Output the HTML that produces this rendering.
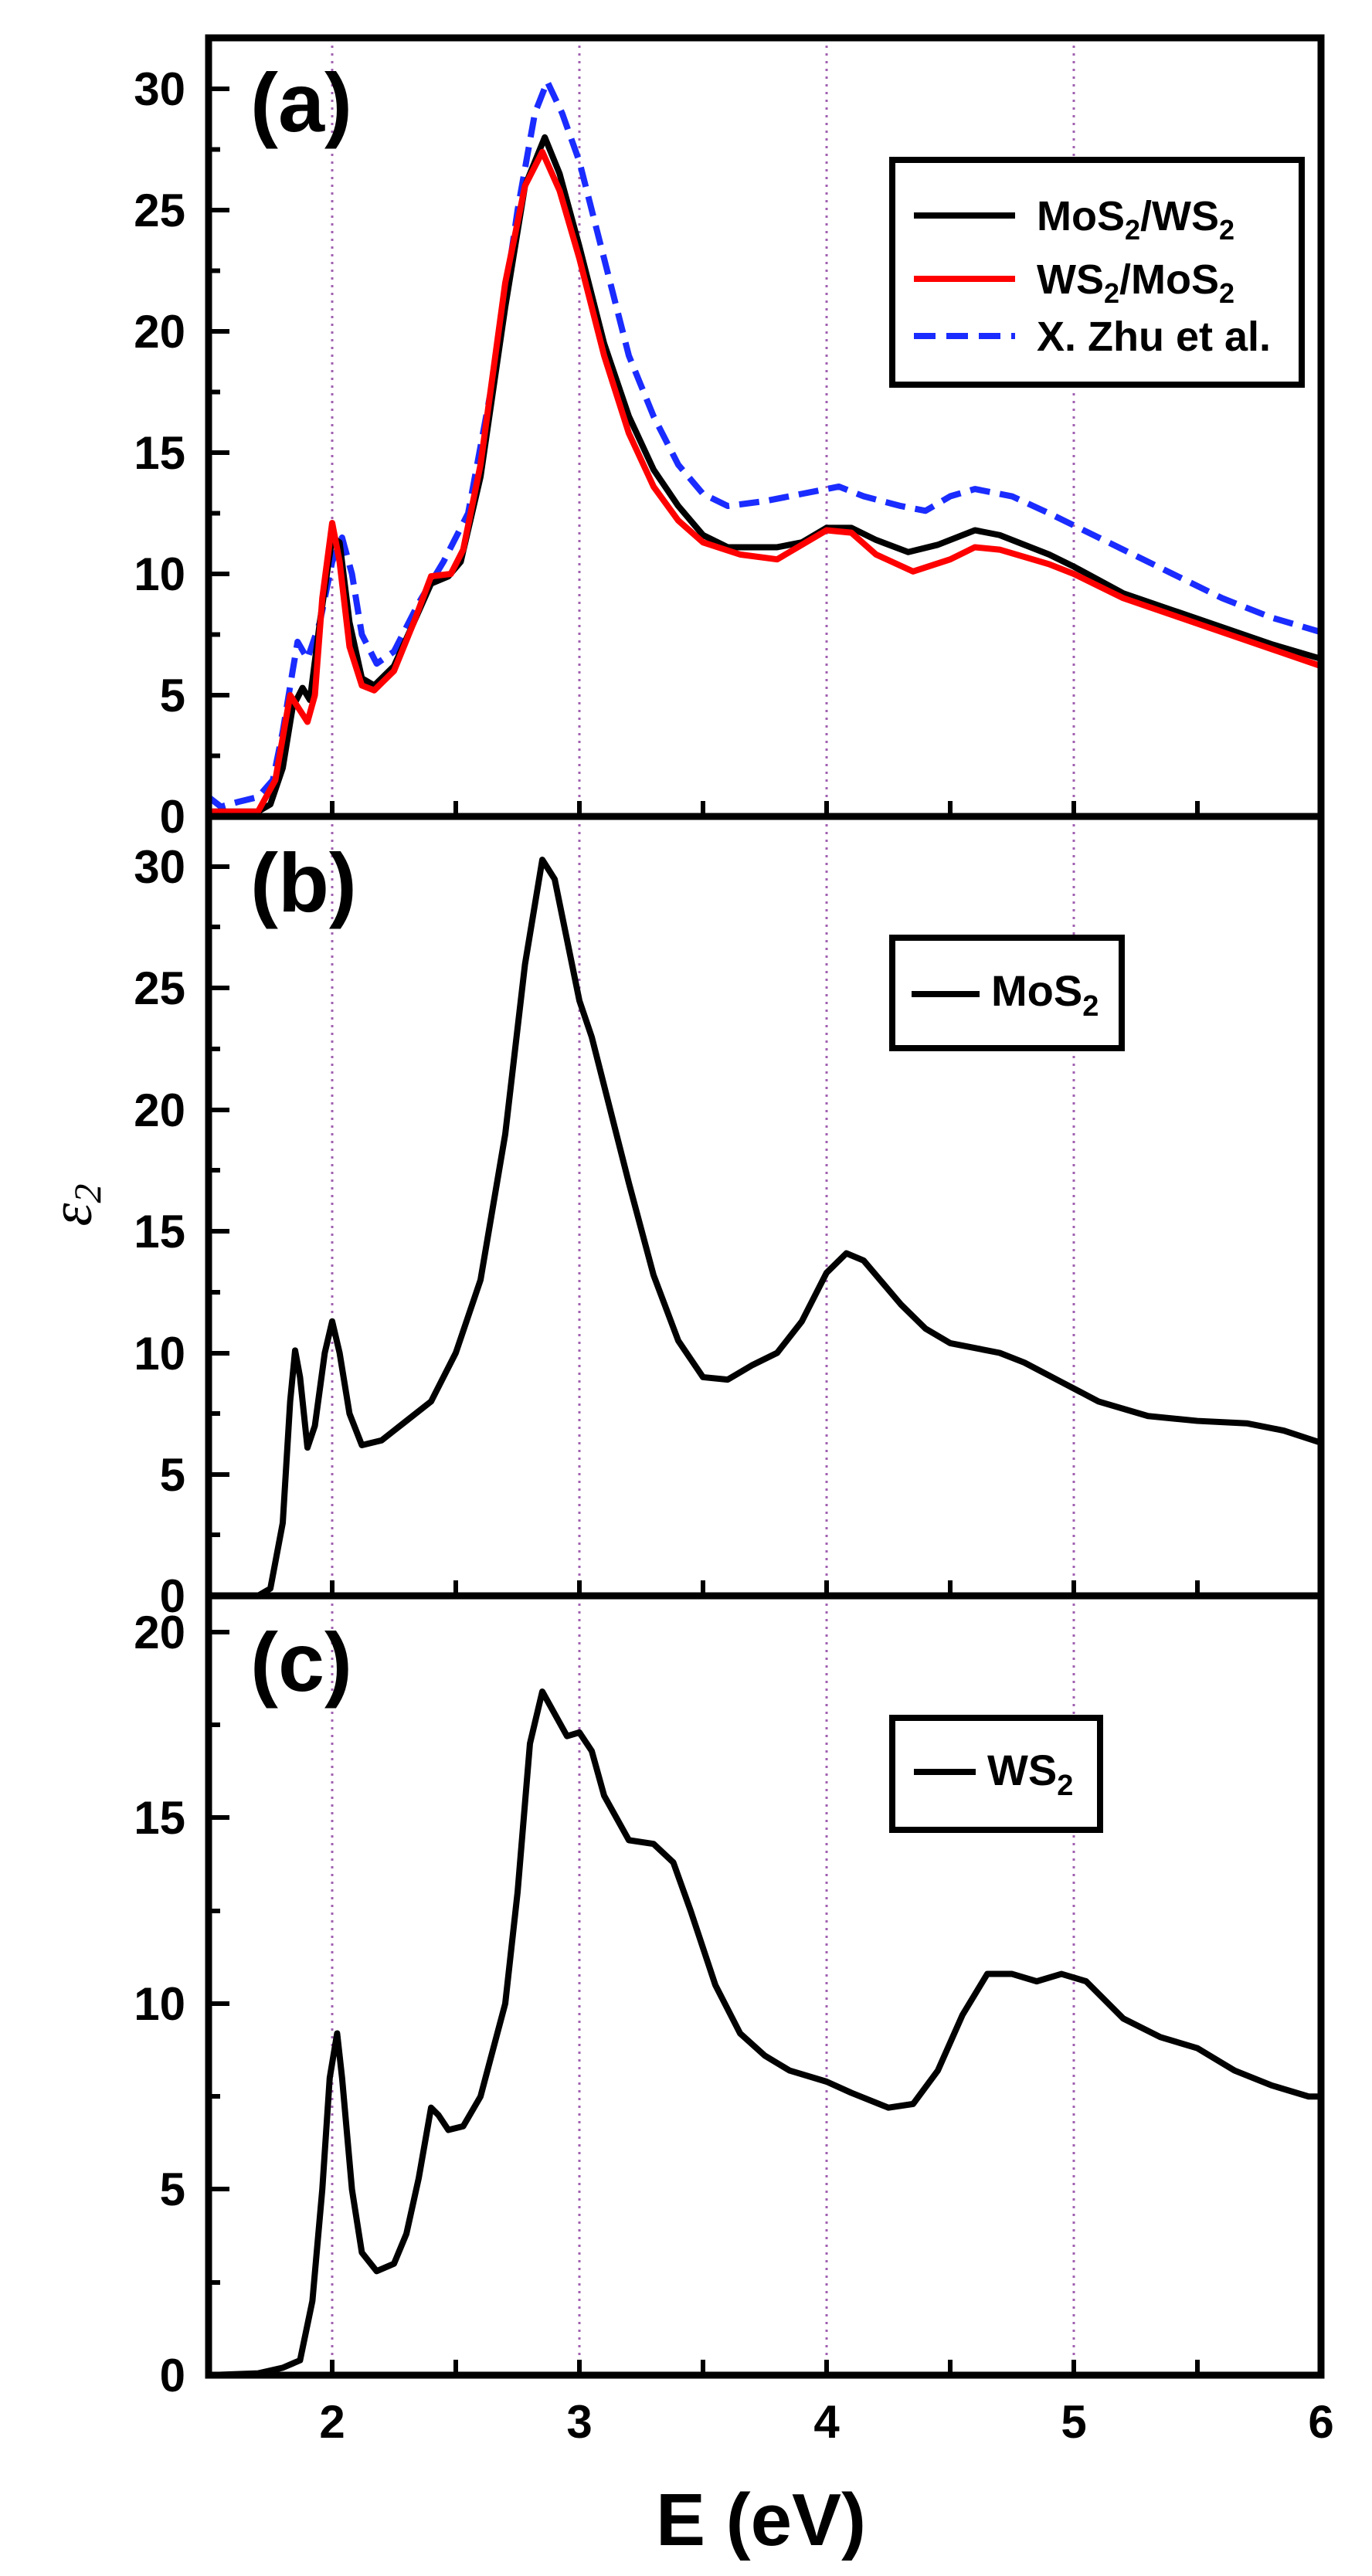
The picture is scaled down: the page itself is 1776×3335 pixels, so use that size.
<!DOCTYPE html>
<html><head><meta charset="utf-8"><style>
html,body{margin:0;padding:0;background:#fff}
svg{display:block}
.t{font-family:"Liberation Sans Narrow","Liberation Sans",sans-serif;font-weight:bold;fill:#000}
</style></head><body>
<svg width="1776" height="3335" viewBox="0 0 1776 3335" xmlns="http://www.w3.org/2000/svg">
<defs>
<g id="vl">
<line x1="430" x2="430" y1="0" y2="1009" />
<line x1="750" x2="750" y1="0" y2="1009" />
<line x1="1070" x2="1070" y1="0" y2="1009" />
<line x1="1390" x2="1390" y1="0" y2="1009" />
</g>
<g id="xt" stroke="#000" stroke-width="6">
<line x1="430" x2="430" y1="0" y2="-20"/><line x1="590" x2="590" y1="0" y2="-20"/>
<line x1="750" x2="750" y1="0" y2="-20"/><line x1="910" x2="910" y1="0" y2="-20"/>
<line x1="1070" x2="1070" y1="0" y2="-20"/><line x1="1230" x2="1230" y1="0" y2="-20"/>
<line x1="1390" x2="1390" y1="0" y2="-20"/><line x1="1550" x2="1550" y1="0" y2="-20"/>
</g>
</defs>
<g stroke="#a060b0" stroke-width="3" stroke-dasharray="3,7" fill="none">
<use href="#vl" transform="translate(0,49)"/>
<use href="#vl" transform="translate(0,1057)"/>
<use href="#vl" transform="translate(0,2066)"/>
</g>
<use href="#xt" transform="translate(0,1057)"/>
<use href="#xt" transform="translate(0,2066)"/>
<use href="#xt" transform="translate(0,3075)"/>
<g stroke="#000" stroke-width="6">
<line x1="270" x2="297" y1="900" y2="900"/><line x1="270" x2="297" y1="743" y2="743"/><line x1="270" x2="297" y1="586" y2="586"/><line x1="270" x2="297" y1="429" y2="429"/><line x1="270" x2="297" y1="272" y2="272"/><line x1="270" x2="297" y1="115" y2="115"/>
<line x1="270" x2="285" y1="978.5" y2="978.5"/><line x1="270" x2="285" y1="821.5" y2="821.5"/><line x1="270" x2="285" y1="664.5" y2="664.5"/><line x1="270" x2="285" y1="507.5" y2="507.5"/><line x1="270" x2="285" y1="350.5" y2="350.5"/><line x1="270" x2="285" y1="193.5" y2="193.5"/>
<line x1="270" x2="297" y1="1909" y2="1909"/><line x1="270" x2="297" y1="1752" y2="1752"/><line x1="270" x2="297" y1="1594" y2="1594"/><line x1="270" x2="297" y1="1437" y2="1437"/><line x1="270" x2="297" y1="1279" y2="1279"/><line x1="270" x2="297" y1="1122" y2="1122"/>
<line x1="270" x2="285" y1="1987" y2="1987"/><line x1="270" x2="285" y1="1830" y2="1830"/><line x1="270" x2="285" y1="1673" y2="1673"/><line x1="270" x2="285" y1="1515" y2="1515"/><line x1="270" x2="285" y1="1358" y2="1358"/><line x1="270" x2="285" y1="1200" y2="1200"/>
<line x1="270" x2="297" y1="2834" y2="2834"/><line x1="270" x2="297" y1="2594" y2="2594"/><line x1="270" x2="297" y1="2353" y2="2353"/><line x1="270" x2="297" y1="2113" y2="2113"/>
<line x1="270" x2="285" y1="2955" y2="2955"/><line x1="270" x2="285" y1="2714" y2="2714"/><line x1="270" x2="285" y1="2474" y2="2474"/><line x1="270" x2="285" y1="2233" y2="2233"/>
</g>
<g transform="matrix(320,0,0,-31.4,-210,1057)" fill="none" stroke-linejoin="round" stroke-linecap="round">
<polyline vector-effect="non-scaling-stroke" stroke="#1a2cff" stroke-width="8" stroke-dasharray="26,13" stroke-linecap="butt" points="1.5,0.8 1.55,0.4 1.62,0.6 1.7,0.8 1.76,1.5 1.8,3.5 1.84,6 1.86,7.2 1.9,6.5 1.95,8 2.0,10.5 2.04,11.5 2.08,10 2.12,7.5 2.18,6.3 2.25,6.8 2.35,8.8 2.45,10.5 2.55,12.5 2.65,18 2.75,25 2.82,29 2.87,30.3 2.93,29 3.0,27 3.1,23 3.2,19 3.3,16.5 3.4,14.5 3.5,13.3 3.6,12.8 3.75,13 3.9,13.3 4.05,13.6 4.15,13.2 4.3,12.8 4.4,12.6 4.5,13.2 4.6,13.5 4.75,13.2 4.9,12.5 5.0,12 5.2,11 5.4,10 5.6,9 5.8,8.2 6.0,7.6"/>
<polyline vector-effect="non-scaling-stroke" stroke="#000" stroke-width="8" points="1.5,0.2 1.7,0.2 1.75,0.5 1.8,2 1.84,4.5 1.88,5.3 1.91,4.8 1.95,8 2.0,11.5 2.03,11.3 2.07,8 2.12,5.7 2.17,5.4 2.25,6.2 2.33,8 2.4,9.6 2.47,9.9 2.52,10.5 2.6,14 2.7,21 2.78,26 2.86,28 2.92,26.5 3.0,23.5 3.1,19.5 3.2,16.5 3.3,14.3 3.4,12.8 3.5,11.6 3.6,11.1 3.8,11.1 3.9,11.3 4.0,11.9 4.1,11.9 4.2,11.4 4.33,10.9 4.45,11.2 4.6,11.8 4.7,11.6 4.9,10.8 5.0,10.3 5.2,9.2 5.4,8.5 5.6,7.8 5.8,7.1 6.0,6.5"/>
<polyline vector-effect="non-scaling-stroke" stroke="#f00" stroke-width="8" points="1.5,0.2 1.7,0.2 1.77,1.5 1.83,5 1.9,3.9 1.93,5 1.96,9 2.0,12.1 2.03,10.5 2.07,7 2.12,5.4 2.17,5.2 2.25,6 2.33,8 2.4,9.9 2.48,10 2.53,11 2.6,14.5 2.7,22 2.78,26 2.85,27.4 2.92,25.8 3.0,23 3.1,19 3.2,15.8 3.3,13.6 3.4,12.2 3.5,11.3 3.65,10.8 3.8,10.6 3.9,11.2 4.0,11.8 4.1,11.7 4.2,10.8 4.35,10.1 4.5,10.6 4.6,11.1 4.7,11 4.9,10.4 5.0,10.0 5.2,9 5.4,8.3 5.6,7.6 5.8,6.9 6.0,6.2"/>
</g>
<g transform="matrix(320,0,0,-31.45,-210,2066)" fill="none" stroke-linejoin="round" stroke-linecap="round">
<polyline vector-effect="non-scaling-stroke" stroke="#000" stroke-width="8" points="1.5,0 1.7,0 1.75,0.3 1.8,3 1.83,8 1.85,10.1 1.87,9 1.9,6.1 1.93,7 1.97,10 2.0,11.3 2.03,10 2.07,7.5 2.12,6.2 2.2,6.4 2.3,7.2 2.4,8 2.5,10 2.6,13 2.7,19 2.78,26 2.85,30.3 2.9,29.5 2.95,27 3.0,24.5 3.05,23 3.1,21 3.2,17 3.3,13.2 3.4,10.5 3.5,9 3.6,8.9 3.7,9.5 3.8,10 3.9,11.3 4.0,13.3 4.08,14.1 4.15,13.8 4.3,12 4.4,11 4.5,10.4 4.7,10 4.8,9.6 4.95,8.8 5.1,8 5.3,7.4 5.5,7.2 5.7,7.1 5.85,6.8 6.0,6.3"/>
</g>
<g transform="matrix(320,0,0,-48.1,-210,3075)" fill="none" stroke-linejoin="round" stroke-linecap="round">
<polyline vector-effect="non-scaling-stroke" stroke="#000" stroke-width="8" points="1.5,0 1.7,0.05 1.8,0.2 1.87,0.4 1.92,2 1.96,5 1.99,8 2.02,9.2 2.04,8 2.08,5 2.12,3.3 2.18,2.8 2.25,3 2.3,3.8 2.35,5.3 2.4,7.2 2.43,7 2.47,6.6 2.53,6.7 2.6,7.5 2.7,10 2.75,13 2.8,17 2.85,18.4 2.9,17.8 2.95,17.2 3.0,17.3 3.05,16.8 3.1,15.6 3.2,14.4 3.3,14.3 3.38,13.8 3.45,12.5 3.55,10.5 3.65,9.2 3.75,8.6 3.85,8.2 4.0,7.9 4.1,7.6 4.25,7.2 4.35,7.3 4.45,8.2 4.55,9.7 4.65,10.8 4.75,10.8 4.85,10.6 4.95,10.8 5.05,10.6 5.2,9.6 5.35,9.1 5.5,8.8 5.65,8.2 5.8,7.8 5.95,7.5 6.0,7.5"/>
</g>
<g fill="none" stroke="#000" stroke-width="9">
<rect x="270" y="49" width="1440" height="3026"/>
<line x1="270" x2="1710" y1="1057" y2="1057"/>
<line x1="270" x2="1710" y1="2066" y2="2066"/>
</g>
<g class="t" font-size="60" text-anchor="end">
<text x="240" y="1078">0</text><text x="240" y="921">5</text><text x="240" y="764">10</text><text x="240" y="607">15</text><text x="240" y="450">20</text><text x="240" y="293">25</text><text x="240" y="136">30</text>
<text x="240" y="2087">0</text><text x="240" y="1930">5</text><text x="240" y="1773">10</text><text x="240" y="1615">15</text><text x="240" y="1458">20</text><text x="240" y="1300">25</text><text x="240" y="1143">30</text>
<text x="240" y="3096">0</text><text x="240" y="2855">5</text><text x="240" y="2615">10</text><text x="240" y="2374">15</text><text x="240" y="2134">20</text>
</g>
<g class="t" font-size="60" text-anchor="middle">
<text x="430" y="3156">2</text><text x="750" y="3156">3</text><text x="1070" y="3156">4</text><text x="1390" y="3156">5</text><text x="1710" y="3156">6</text>
</g>
<text class="t" font-size="96" x="985" y="3295" text-anchor="middle">E (eV)</text>
<text transform="translate(118,1560) rotate(-90)" font-family="'Liberation Serif',serif" font-style="italic" font-size="76" text-anchor="middle">ε<tspan font-size="50" dy="12">2</tspan></text>
<g class="t" font-size="108">
<text x="324" y="170">(a)</text>
<text x="324" y="1180">(b)</text>
<text x="324" y="2189">(c)</text>
</g>
<rect x="1155" y="207" width="530" height="291" fill="#fff" stroke="#000" stroke-width="8"/>
<line x1="1183" x2="1314" y1="279" y2="279" stroke="#000" stroke-width="8"/>
<line x1="1183" x2="1314" y1="361" y2="361" stroke="#f00" stroke-width="8"/>
<line x1="1183" x2="1314" y1="435" y2="435" stroke="#1a2cff" stroke-width="8" stroke-dasharray="28,14"/>
<g class="t" font-size="54">
<text x="1342" y="298">MoS<tspan font-size="36" dy="12">2</tspan><tspan dy="-12">/WS</tspan><tspan font-size="36" dy="12">2</tspan></text>
<text x="1342" y="380">WS<tspan font-size="36" dy="12">2</tspan><tspan dy="-12">/MoS</tspan><tspan font-size="36" dy="12">2</tspan></text>
<text x="1342" y="454">X. Zhu et al.</text>
</g>
<rect x="1155" y="1214" width="297" height="143" fill="#fff" stroke="#000" stroke-width="8"/>
<line x1="1180" x2="1268" y1="1287" y2="1287" stroke="#000" stroke-width="8"/>
<text class="t" font-size="56" x="1283" y="1302">MoS<tspan font-size="38" dy="13">2</tspan></text>
<rect x="1155" y="2224" width="269" height="145" fill="#fff" stroke="#000" stroke-width="8"/>
<line x1="1183" x2="1263" y1="2294" y2="2294" stroke="#000" stroke-width="8"/>
<text class="t" font-size="56" x="1278" y="2311">WS<tspan font-size="38" dy="13">2</tspan></text>
</svg>
</body></html>
